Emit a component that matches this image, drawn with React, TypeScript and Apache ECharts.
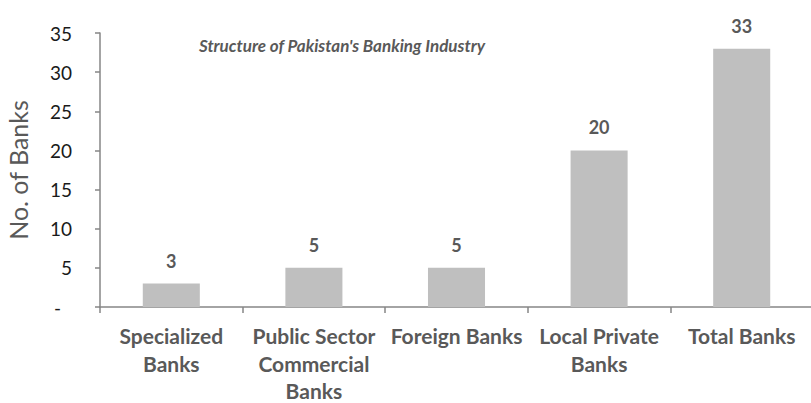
import React, { useEffect, useRef } from "react";
import * as echarts from "echarts";

const categories = [
  "Specialized\nBanks",
  "Public Sector\nCommercial\nBanks",
  "Foreign Banks",
  "Local Private\nBanks",
  "Total Banks",
];
const banks = [3, 5, 5, 20, 33];
const titleText = "Structure of Pakistan's Banking Industry";
const yAxisName = "No. of Banks";

export default function App() {
  const ref = useRef<HTMLDivElement>(null);
  useEffect(() => {
    const chart = echarts.init(ref.current!, null, { renderer: "svg" });
    const font = "Lato, 'Open Sans', sans-serif";
    chart.setOption({
      animation: false,
      textStyle: { fontFamily: font },
      title: {
        text: titleText,
        left: 337,
        top: 32,
        textAlign: "center",
        textStyle: {
          fontFamily: font,
          fontSize: 17,
          fontWeight: "bold",
          fontStyle: "italic",
          color: "#595959",
        },
      },
      grid: {
        left: 100,
        right: -2,
        top: 33,
        bottom: 96,
        containLabel: false,
        outerBoundsMode: "none",
      },
      xAxis: {
        type: "category",
        data: categories,
        axisLine: { lineStyle: { color: "#868686", width: 1.5 } },
        axisTick: { show: true, length: 6, lineStyle: { color: "#868686", width: 1.5 } },
        axisLabel: {
          interval: 0,
          margin: 15,
          fontFamily: font,
          fontSize: 21,
          fontWeight: "bold",
          color: "#595959",
          lineHeight: 27.5,
        },
      },
      yAxis: {
        type: "value",
        min: 0,
        max: 35,
        interval: 5,
        name: yAxisName,
        nameLocation: "middle",
        nameGap: 70,
        nameTextStyle: { fontFamily: font, fontSize: 25, color: "#595959" },
        splitLine: { show: false },
        axisLine: { show: true, lineStyle: { color: "#868686", width: 1.5 } },
        axisTick: { show: true, length: 5, lineStyle: { color: "#868686", width: 1.5 } },
        axisLabel: {
          margin: 28,
          fontFamily: font,
          fontSize: 19,
          color: "#1a1a1a",
          formatter: (v: number) => (v === 0 ? "{z|-}" : String(v)),
          rich: { z: { fontSize: 19, color: "#1a1a1a", padding: [0, 11, 0, 0] } },
        },
      },
      series: [
        {
          type: "bar",
          data: banks,
          barWidth: "40%",
          itemStyle: { color: "#bfbfbf" },
          label: {
            show: true,
            position: "top",
            distance: 14,
            fontFamily: font,
            fontSize: 18,
            fontWeight: "bold",
            color: "#595959",
          },
        },
      ],
    });
    return () => chart.dispose();
  }, []);
  return <div ref={ref} style={{ width: 811, height: 403, position: "absolute", left: 0, top: 0 }} />;
}
